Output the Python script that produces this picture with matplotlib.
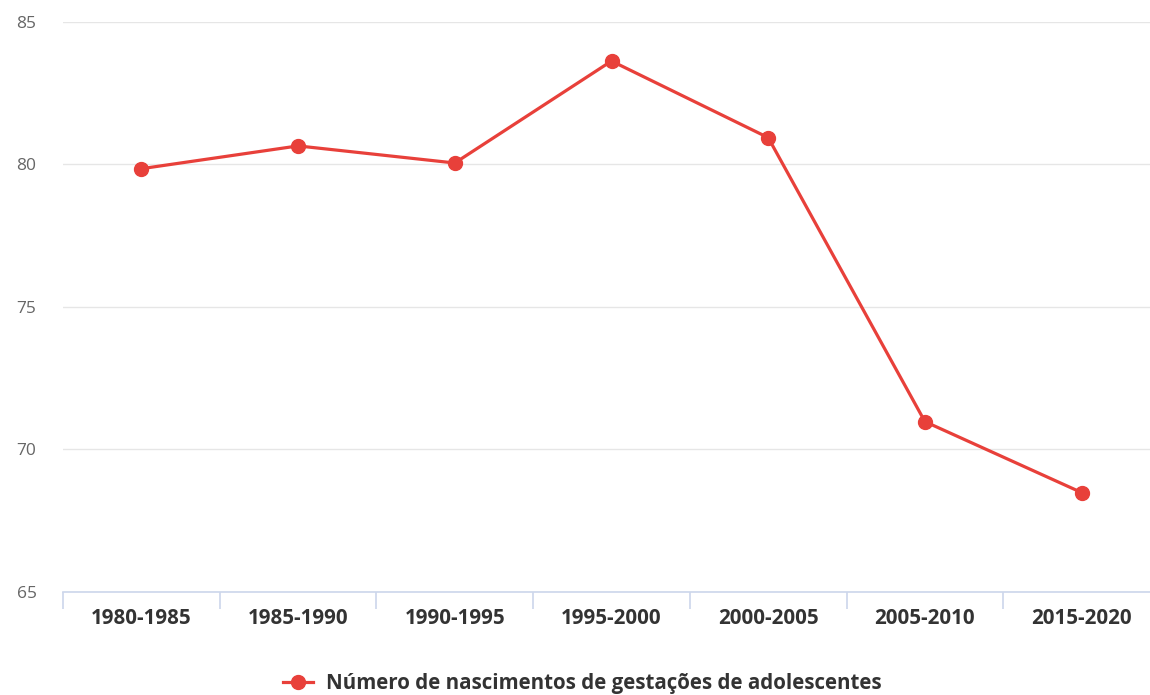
import matplotlib.pyplot as plt
import numpy as np

# Data
periodos = ['1980-1985', '1985-1990', '1990-1995', '1995-2000',
            '2000-2005', '2005-2010', '2015-2020']
nascimentos = [79.85, 80.65, 80.05, 83.63, 80.94, 70.97, 68.48]
serie_nome = 'Número de nascimentos de gestações de adolescentes'

plt.rcParams['font.family'] = ['Open Sans', 'DejaVu Sans']

fig = plt.figure(figsize=(11.5, 6.95), dpi=100)
# axes extends a little past the right edge, as in the reference
ax = fig.add_axes([63 / 1150, 103.3 / 695, 1097 / 1150, (591.7 - 22) / 695])

x = np.arange(len(periodos))
ax.plot(x, nascimentos, color='#e8403a', lw=2.3, marker='o', ms=10,
        label=serie_nome, clip_on=False, zorder=3)

ax.set_xlim(-0.5, len(periodos) - 0.5)
ax.set_ylim(65, 85)
ax.set_yticks([65, 70, 75, 80, 85])
ax.grid(axis='y', color='#e6e6e6', lw=1)
ax.set_axisbelow(True)

for s in ['top', 'right', 'left']:
    ax.spines[s].set_visible(False)
ax.spines['bottom'].set_color('#ccd6eb')
ax.spines['bottom'].set_linewidth(1.2)

# category labels centred, tick marks on boundaries
ax.set_xticks(x)
ax.set_xticklabels(periodos, fontsize=14.8, fontweight='bold', color='#333333')
ax.tick_params(axis='x', length=0, pad=12)
ax.set_xticks(np.arange(len(periodos)) - 0.5, minor=True)
ax.tick_params(axis='x', which='minor', length=12, color='#ccd6eb', width=1.2)

ax.tick_params(axis='y', length=0, pad=19, labelsize=12.5, labelcolor='#666666')

fig.legend(loc='center', bbox_to_anchor=(582 / 1150, 1 - 684 / 695),
           frameon=False, handlelength=1.5, handletextpad=0.6,
           prop={'weight': 'bold', 'size': 14.8})
for t in fig.legends[0].get_texts():
    t.set_color('#333333')

fig.savefig('out.png', dpi=100)
